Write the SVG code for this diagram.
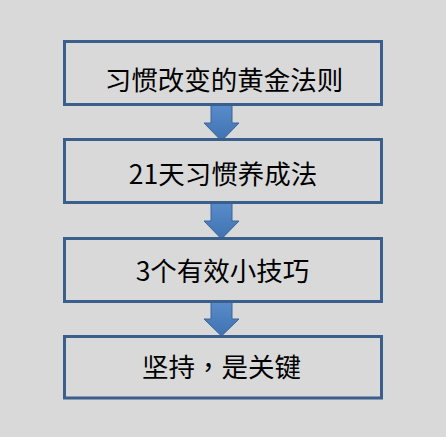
<svg xmlns="http://www.w3.org/2000/svg" width="446" height="437" viewBox="0 0 446 437">
  <defs>
    <linearGradient id="ag" x1="0" y1="0" x2="0" y2="1">
      <stop offset="0" stop-color="#5a8ccb"/>
      <stop offset="1" stop-color="#3f72b0"/>
    </linearGradient>
    <style>
      .box { fill: none; stroke: #3a5f8d; stroke-width: 3; }
      .lbl { font-family: "Microsoft YaHei", "Noto Sans CJK SC", "Noto Sans", sans-serif; font-size: 26.5px; fill: #000; text-anchor: middle; }
      .tc { font-family: "Noto Sans CJK TC", sans-serif; }
      .arr { fill: url(#ag); stroke: #3a6496; stroke-width: 1; }
    </style>
  </defs>
  <rect x="0" y="0" width="446" height="437" fill="#d9d9d9"/>
  <g id="connectors">
    <polygon class="arr" points="211,105 232,105 232,123 239,123 221.5,141 204,123 211,123"/>
    <polygon class="arr" points="211,203 232,203 232,221 239,221 221.5,239 204,221 211,221"/>
    <polygon class="arr" points="211,302 232,302 232,319 239,319 221.5,336 204,319 211,319"/>
  </g>
  <g id="node1">
    <rect class="box" x="64.5" y="41.5" width="317" height="63"/>
    <text class="lbl" x="224" y="89.5">习惯改变的黄金法则</text>
  </g>
  <g id="node2">
    <rect class="box" x="64.5" y="139.5" width="317" height="63"/>
    <text class="lbl" x="223" y="184">21天习惯养成法</text>
  </g>
  <g id="node3">
    <rect class="box" x="64.5" y="238.5" width="317" height="63"/>
    <text class="lbl" x="222.5" y="281">3个有效小技巧</text>
  </g>
  <g id="node4">
    <rect class="box" x="64.5" y="336.5" width="317" height="61.5"/>
    <text class="lbl" x="221.5" y="377">坚持<tspan class="tc">，</tspan>是关键</text>
  </g>
</svg>
